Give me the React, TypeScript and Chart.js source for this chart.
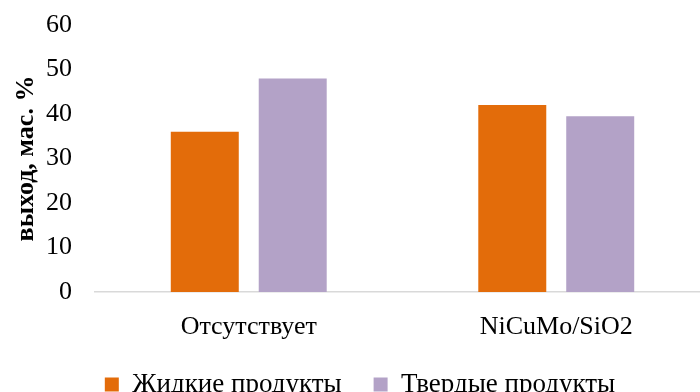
import React, { useEffect, useRef } from "react";
import { Chart, registerables } from "chart.js";

Chart.register(...registerables);

const categories = ["Отсутствует", "NiCuMo/SiO2"];
const liquidProducts = [36, 42];
const solidProducts = [48, 39.5];
const seriesNames = ["Жидкие продукты", "Твердые продукты"];
const yTitle = "выход, мас. %";

const FONT = "'Liberation Serif', 'Times New Roman', serif";

export default function App() {
  const ref = useRef<HTMLCanvasElement | null>(null);
  useEffect(() => {
    if (!ref.current) return;
    const chart = new Chart(ref.current, {
      type: "bar",
      data: {
        labels: categories,
        datasets: [
          {
            label: seriesNames[0],
            data: liquidProducts,
            backgroundColor: "#E36C0A",
            categoryPercentage: 0.572,
            barPercentage: 0.773,
          },
          {
            label: seriesNames[1],
            data: solidProducts,
            backgroundColor: "#B3A2C7",
            categoryPercentage: 0.572,
            barPercentage: 0.773,
          },
        ],
      },
      options: {
        animation: false,
        responsive: false,
        maintainAspectRatio: false,
        layout: { autoPadding: false, padding: { top: 25, right: 2, left: 10, bottom: 0 } },
        plugins: {
          tooltip: { enabled: false },
          legend: {
            position: "bottom",
            labels: {
              font: { family: FONT, size: 27 },
              color: "#000",
              boxWidth: 14,
              boxHeight: 14,
              padding: 32,
            },
          },
        },
        scales: {
          x: {
            grid: { display: false, drawTicks: false },
            border: { display: true, color: "#D9D9D9", width: 1.5 },
            ticks: {
              font: { family: FONT, size: 26 },
              color: "#000",
              padding: 20,
              maxRotation: 0,
            },
            afterFit: (scale: any) => {
              scale.height = 47;
            },
          },
          y: {
            min: 0,
            max: 60,
            grid: { display: false, drawTicks: false },
            border: { display: false },
            ticks: {
              stepSize: 10,
              font: { family: FONT, size: 26 },
              color: "#000",
              padding: 23,
            },
            title: {
              display: true,
              text: yTitle,
              font: { family: FONT, size: 26, weight: "bold" },
              color: "#000",
              padding: { top: 1, bottom: 0 },
            },
            afterFit: (scale: any) => {
              scale.width = 85;
              scale.paddingTop = 0;
              scale.paddingBottom = 0;
            },
          },
        },
      },
    });
    return () => chart.destroy();
  }, []);
  return (
    <div
      style={{
        position: "fixed",
        left: 0,
        top: 0,
        width: 700,
        height: 392,
        overflow: "hidden",
        background: "#fff",
      }}
    >
      <canvas ref={ref} width={712} height={408} style={{ display: "block" }} />
    </div>
  );
}
